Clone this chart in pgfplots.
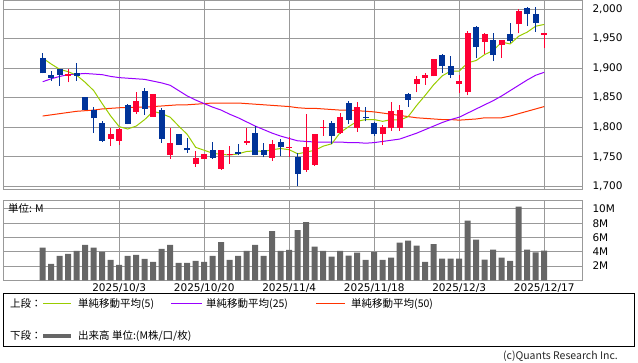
\documentclass[border=0pt]{standalone}
\usepackage{pgfplots}
\pgfplotsset{compat=1.18}
\usepackage{fontspec}
\setmainfont{DejaVu Sans}
\newfontfamily\jp{Noto Sans CJK JP}
\definecolor{cgrid}{HTML}{999999}
\definecolor{cRed}{HTML}{FF0033}
\definecolor{cBlue}{HTML}{003399}
\definecolor{cMAa}{HTML}{99CC00}
\definecolor{cMAb}{HTML}{9900FF}
\definecolor{cMAc}{HTML}{FF3300}
\definecolor{cVol}{HTML}{666666}
\pgfplotsset{
  panel/.style={
    anchor=south west, scale only axis, width=578.3pt,
    xmin=-4.553, xmax=63.482,
    xtick={9,19,29,39,49,59},
    major tick length=0pt,
    grid=major, grid style={cgrid, line width=1pt},
    axis line style={cgrid, line width=1pt},
    yticklabel pos=right,
    yticklabel style={anchor=west, inner sep=0pt, xshift=10pt},
    scaled y ticks=false,
  },
  wick/.style={line width=1.3pt, unbounded coords=jump, forget plot},
  body/.style={line width=6pt, unbounded coords=jump, forget plot},
}
\begin{document}
\begin{tikzpicture}[font=\fontsize{10.5}{12}\selectfont]
\useasboundingbox (0,0) rectangle (638pt,362pt);

% ---------------- price panel ----------------
\begin{axis}[panel, at={(4pt,172pt)}, height=189.5pt,
  ymin=1693.8, ymax=2014.5,
  ytick={1700,1750,1800,1850,1900,1950,2000},
  xticklabels={},
  yticklabel style={/pgf/number format/.cd, 1000 sep={,}, assume math mode=true},
]
% moving averages
\addplot[cMAc, line width=1pt, forget plot] coordinates {
(0,1819)(1,1821)(2,1823)(3,1825)(4,1827)(5,1828)(6,1829)(7,1831)(8,1832)(9,1833)
(10,1833)(11,1834)(12,1834)(13,1835)(14,1836)(15,1837)(16,1838)(17,1838)(18,1839)(19,1840)
(20,1841)(21,1841)(22,1841)(23,1841)(24,1840)(25,1839)(26,1838)(27,1837)(28,1836)(29,1835)
(30,1833)(31,1832)(32,1832)(33,1831)(34,1830)(35,1829)(36,1829)(37,1828)(38,1827)(39,1826)
(40,1824)(41,1822)(42,1820)(43,1818)(44,1816)(45,1815)(46,1814)(47,1813)(48,1813)(49,1812)
(50,1813)(51,1814)(52,1816)(53,1816)(54,1816)(55,1819)(56,1823)(57,1827)(58,1831)(59,1835)};
\addplot[cMAb, line width=1pt, forget plot] coordinates {
(0,1877)(1,1882)(2,1886)(3,1889)(4,1890)(5,1891)(6,1890)(7,1889)(8,1886)(9,1884)
(10,1883)(11,1882)(12,1881)(13,1878)(14,1875)(15,1871)(16,1862)(17,1853)(18,1846)(19,1840)
(20,1834)(21,1829)(22,1822)(23,1816)(24,1809)(25,1802)(26,1796)(27,1790)(28,1785)(29,1781)
(30,1777)(31,1776)(32,1775)(33,1775)(34,1775)(35,1775)(36,1774)(37,1774)(38,1773)(39,1774)
(40,1776)(41,1778)(42,1780)(43,1785)(44,1790)(45,1796)(46,1802)(47,1808)(48,1813)(49,1817)
(50,1824)(51,1831)(52,1838)(53,1845)(54,1853)(55,1862)(56,1871)(57,1880)(58,1888)(59,1893)};
\addplot[cMAa, line width=1pt, forget plot] coordinates {
(0,1917)(1,1907)(2,1898)(3,1894)(4,1888)(5,1876)(6,1862)(7,1840)(8,1819)(9,1801)
(10,1797)(11,1802)(12,1813)(13,1827)(14,1823)(15,1817)(16,1802)(17,1788)(18,1766)(19,1761)
(20,1756)(21,1754)(22,1753)(23,1755)(24,1759)(25,1760)(26,1759)(27,1762)(28,1764)(29,1762)
(30,1755)(31,1758)(32,1761)(33,1768)(34,1772)(35,1791)(36,1801)(37,1810)(38,1813)(39,1813)
(40,1810)(41,1813)(42,1812)(43,1818)(44,1837)(45,1854)(46,1872)(47,1887)(48,1895)(49,1895)
(50,1909)(51,1913)(52,1923)(53,1930)(54,1944)(55,1941)(56,1954)(57,1961)(58,1971)(59,1974)};
% red candles: wicks (low, high)
\addplot[cRed, wick] coordinates {
(3,1876)(3,1898)(3,nan) (8,1768)(8,1799)(8,nan) (9,1770)(9,1798)(9,nan)
(11,1823)(11,1859)(11,nan) (13,1817)(13,1856)(13,nan) (15,1747)(15,1799)(15,nan)
(18,1733)(18,1760)(18,nan) (19,1746)(19,1755)(19,nan) (21,1728)(21,1761)(21,nan)
(22,1738)(22,1768)(22,nan) (24,1770)(24,1799)(24,nan) (27,1743)(27,1778)(27,nan)
(29,1750)(29,1784)(29,nan) (31,1725)(31,1822)(31,nan) (32,1735)(32,1789)(32,nan)
(33,1786)(33,1813)(33,nan) (35,1789)(35,1824)(35,nan) (37,1792)(37,1842)(37,nan)
(40,1770)(40,1803)(40,nan) (41,1794)(41,1842)(41,nan) (42,1794)(42,1838)(42,nan)
(44,1859)(44,1886)(44,nan) (45,1872)(45,1892)(45,nan) (46,1886)(46,1916)(46,nan)
(49,1858)(49,1888)(49,nan) (50,1854)(50,1963)(50,nan) (52,1924)(52,1960)(52,nan)
(54,1918)(54,1948)(54,nan) (56,1959)(56,2000)(56,nan) (59,1934)(59,1960)};
% red candles: bodies (open, close)
\addplot[cRed, body] coordinates {
(3,1887)(3,1890)(3,nan) (8,1780)(8,1788)(8,nan) (9,1777)(9,1797)(9,nan)
(11,1826)(11,1844)(11,nan) (13,1818)(13,1856)(13,nan) (15,1753)(15,1773)(15,nan)
(18,1738)(18,1748)(18,nan) (19,1747)(19,1754)(19,nan) (21,1730)(21,1761)(21,nan)
(22,1754)(22,1755.5)(22,nan) (24,1774)(24,1777)(24,nan) (27,1748)(27,1771)(27,nan)
(29,1765)(29,1766.5)(29,nan) (31,1728)(31,1766)(31,nan) (32,1736)(32,1788)(32,nan)
(33,1799)(33,1800.5)(33,nan) (35,1790)(35,1817)(35,nan) (37,1799)(37,1834)(37,nan)
(40,1789)(40,1800)(40,nan) (41,1798)(41,1827)(41,nan) (42,1799)(42,1830)(42,nan)
(44,1873)(44,1881)(44,nan) (45,1883)(45,1888)(45,nan) (46,1886)(46,1916)(46,nan)
(49,1873)(49,1878)(49,nan) (50,1859)(50,1959)(50,nan) (52,1945)(52,1957)(52,nan)
(54,1939)(54,1947)(54,nan) (56,1974)(56,1997)(56,nan) (59,1956)(59,1960)};
% blue candles: wicks (low, high)
\addplot[cBlue, wick] coordinates {
(0,1891)(0,1925)(0,nan) (1,1878)(1,1896)(1,nan) (2,1870)(2,1899)(2,nan)
(4,1879)(4,1908)(4,nan) (5,1830)(5,1852)(5,nan) (6,1790)(6,1835)(6,nan)
(7,1775)(7,1810)(7,nan) (10,1805)(10,1840)(10,nan) (12,1821)(12,1866)(12,nan)
(14,1774)(14,1832)(14,nan) (16,1770)(16,1789)(16,nan) (17,1757)(17,1781)(17,nan)
(20,1746)(20,1775)(20,nan) (23,1753)(23,1771)(23,nan) (25,1753)(25,1802)(25,nan)
(26,1749)(26,1773)(26,nan) (28,1751)(28,1780)(28,nan) (30,1701)(30,1757)(30,nan)
(34,1771)(34,1811)(34,nan) (36,1806)(36,1845)(36,nan) (38,1810)(38,1834)(38,nan)
(39,1785)(39,1809)(39,nan) (43,1834)(43,1858)(43,nan) (47,1892)(47,1924)(47,nan)
(48,1883)(48,1921)(48,nan) (51,1917)(51,1972)(51,nan) (53,1912)(53,1959)(53,nan)
(55,1943)(55,1977)(55,nan) (57,1971)(57,2003)(57,nan) (58,1962)(58,2004)};
% blue candles: bodies (close, open)
\addplot[cBlue, body] coordinates {
(0,1891)(0,1917)(0,nan) (1,1883)(1,1888)(1,nan) (2,1888)(2,1898)(2,nan)
(4,1887)(4,1891)(4,nan) (5,1830)(5,1851)(5,nan) (6,1815)(6,1830)(6,nan)
(7,1777)(7,1807)(7,nan) (10,1806)(10,1837)(10,nan) (12,1831)(12,1861)(12,nan)
(14,1780)(14,1830)(14,nan) (16,1770)(16,1788)(16,nan) (17,1761)(17,1765)(17,nan)
(20,1748)(20,1761)(20,nan) (23,1755)(23,1758)(23,nan) (25,1753)(25,1791)(25,nan)
(26,1753)(26,1761)(26,nan) (28,1766)(28,1775)(28,nan) (30,1721)(30,1750)(30,nan)
(34,1786)(34,1808)(34,nan) (36,1813)(36,1841)(36,nan) (38,1815)(38,1817)(38,nan)
(39,1788)(39,1807)(39,nan) (43,1846)(43,1857)(43,nan) (47,1903)(47,1923)(47,nan)
(48,1888)(48,1904)(48,nan) (51,1935)(51,1970)(51,nan) (53,1922)(53,1948)(53,nan)
(55,1946)(55,1958)(55,nan) (57,1991)(57,2002)(57,nan) (58,1976)(58,1992)};
\end{axis}

% ---------------- volume panel ----------------
\begin{axis}[panel, at={(4pt,81.7pt)}, height=79.3pt,
  ymin=0, ymax=11.12,
  ytick={2,4,6,8,10}, yticklabels={2M,4M,6M,8M,10M},
  xticklabels={2025/10/3,2025/10/20,2025/11/4,2025/11/18,2025/12/3,2025/12/17},
  xticklabel style={anchor=north, inner sep=0pt, yshift=-3pt},
  ybar, bar width=6pt,
]
\addplot[fill=cVol, draw=none] coordinates {
(0,4.57)(1,2.29)(2,3.41)(3,3.69)(4,4.11)(5,4.95)(6,4.57)(7,3.97)(8,2.85)(9,2.15)
(10,3.41)(11,3.55)(12,2.99)(13,2.57)(14,4.39)(15,4.95)(16,2.43)(17,2.43)(18,2.71)(19,2.57)
(20,3.41)(21,5.37)(22,2.85)(23,3.41)(24,4.11)(25,4.95)(26,3.41)(27,6.91)(28,4.11)(29,4.25)
(30,7.05)(31,8.17)(32,4.71)(33,4.11)(34,3.31)(35,4.11)(36,3.45)(37,3.87)(38,2.85)(39,3.97)
(40,2.85)(41,3.17)(42,5.27)(43,5.55)(44,4.85)(45,2.57)(46,5.09)(47,3.03)(48,3.03)(49,3.03)
(50,8.36)(51,5.69)(52,2.89)(53,4.29)(54,3.17)(55,2.71)(56,10.32)(57,4.29)(58,3.93)(59,4.15)};
\end{axis}
\node[anchor=west, inner sep=0pt] at (8pt,153pt) {\jp 単位: M};

% ---------------- legend ----------------
\draw[black, line width=1pt] (3.5pt,68pt) rectangle (634.5pt,16pt);
\node[anchor=west, inner sep=0pt] at (10pt,58pt) {\jp 上段：};
\draw[cMAa, line width=1pt] (43pt,58pt) -- (71pt,58pt);
\node[anchor=west, inner sep=0pt] at (78pt,58pt) {\jp 単純移動平均(5)};
\draw[cMAb, line width=1pt] (171pt,58pt) -- (202pt,58pt);
\node[anchor=west, inner sep=0pt] at (206pt,58pt) {\jp 単純移動平均(25)};
\draw[cMAc, line width=1pt] (316pt,58pt) -- (345pt,58pt);
\node[anchor=west, inner sep=0pt] at (351pt,58pt) {\jp 単純移動平均(50)};
\node[anchor=west, inner sep=0pt] at (10pt,26pt) {\jp 下段：};
\draw[cVol, line width=4pt] (43pt,26pt) -- (71pt,26pt);
\node[anchor=west, inner sep=0pt] at (78pt,26pt) {\jp 出来高 単位:(M株/口/枚)};
\node[anchor=east, inner sep=0pt, text=black!85] at (618pt,6pt) {\jp (c)Quants Research Inc.};
\end{tikzpicture}
\end{document}
